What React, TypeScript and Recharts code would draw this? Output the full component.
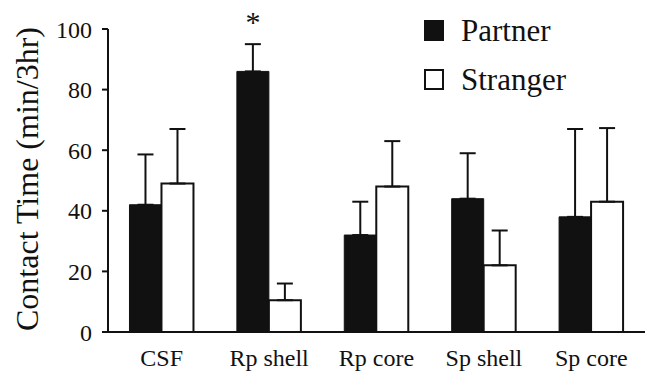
import React from "react";
import {
  BarChart, Bar, XAxis, YAxis, ErrorBar, Legend, LabelList
} from "recharts";

const categories = ["CSF", "Rp shell", "Rp core", "Sp shell", "Sp core"];
const partner = [42, 86, 32, 44, 38];
const partnerTop = [58.6, 95, 43, 59, 67];
const stranger = [49, 10.5, 48, 22, 43];
const strangerTop = [67, 16, 63, 33.5, 67.3];
const sig = ["", "*", "", "", ""];
const yTicks = [0, 20, 40, 60, 80, 100];

const data = categories.map((name, i) => ({
  name,
  partner: partner[i],
  stranger: stranger[i],
  partnerErr: [0, partnerTop[i] - partner[i]],
  strangerErr: [0, strangerTop[i] - stranger[i]],
  sig: sig[i],
}));

const serif = "Liberation Serif";

const renderLegend = () => (
  <div style={{ fontFamily: serif, fontSize: 31, color: "#111", lineHeight: 1 }}>
    <div style={{ display: "flex", alignItems: "center", height: 49 }}>
      <div style={{ width: 20, height: 21, background: "#111", marginRight: 17 }} />
      <span>Partner</span>
    </div>
    <div style={{ display: "flex", alignItems: "center", height: 49 }}>
      <div style={{ width: 16, height: 17, border: "2px solid #111", background: "#fff", marginRight: 17 }} />
      <span>Stranger</span>
    </div>
  </div>
);

const renderYLabel = () => (
  <text
    transform="translate(38, 179) rotate(-90)"
    textAnchor="middle"
    fontFamily={serif}
    fontSize={32}
    fill="#111"
  >
    Contact Time (min/3hr)
  </text>
);

function App() {
  return (
    <div style={{ position: "absolute", left: 0, top: 0, background: "#fff", fontFamily: serif }}>
      <BarChart
        width={646}
        height={372}
        data={data}
        margin={{ top: 29, right: 1, left: 0, bottom: 0 }}
        barCategoryGap="20%"
        barGap={0}
        style={{ fontFamily: serif }}
      >
        <XAxis
          dataKey="name"
          height={40}
          tickLine={false}
          tickMargin={11}
          axisLine={{ stroke: "#111", strokeWidth: 2 }}
          tick={{ fill: "#111", fontSize: 24, fontFamily: serif }}
        />
        <YAxis
          width={108}
          domain={[0, 100]}
          ticks={yTicks}
          tickSize={6}
          tickMargin={10}
          axisLine={{ stroke: "#111", strokeWidth: 2 }}
          tickLine={{ stroke: "#111", strokeWidth: 2 }}
          tick={{ fill: "#111", fontSize: 24, fontFamily: serif }}
          label={renderYLabel}
        />
        <Legend
          layout="vertical"
          align="center"
          verticalAlign="middle"
          content={renderLegend}
          wrapperStyle={{ top: 6, left: 424, width: 200 }}
        />
        <Bar dataKey="partner" fill="#111" stroke="#111" strokeWidth={1} isAnimationActive={false}>
          <ErrorBar dataKey="partnerErr" width={8} stroke="#111" strokeWidth={2} />
          <LabelList dataKey="sig" position="top" offset={39} fontSize={30} fontFamily={serif} fill="#111" />
        </Bar>
        <Bar dataKey="stranger" fill="#fff" stroke="#111" strokeWidth={2} isAnimationActive={false}>
          <ErrorBar dataKey="strangerErr" width={8} stroke="#111" strokeWidth={2} />
        </Bar>
      </BarChart>
    </div>
  );
}

export default App;
